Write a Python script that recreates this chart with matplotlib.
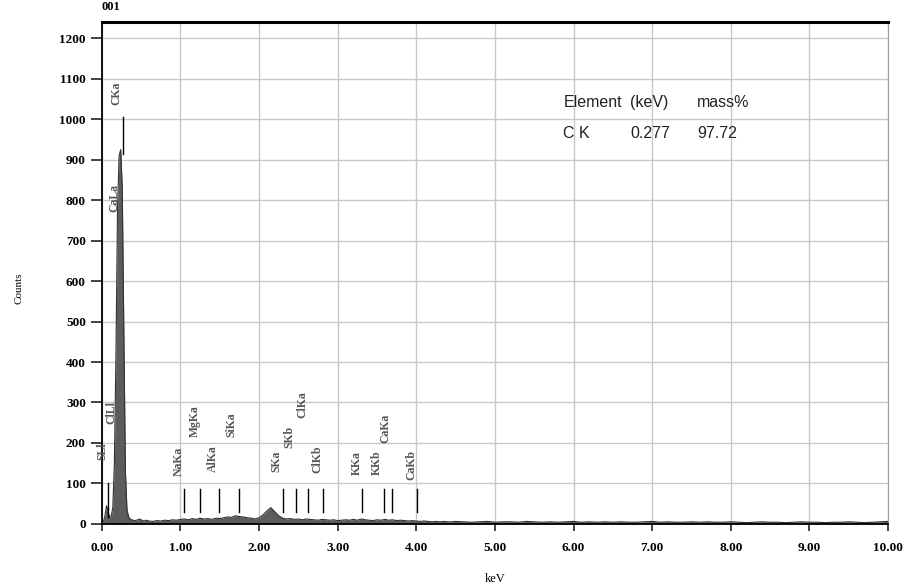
import numpy as np
import matplotlib.pyplot as plt

# spectrum: counts (keV grid pieces)
peak_counts = [0, 5, 20, 45, 30, 15, 20, 40, 150, 420, 780, 910, 925, 830, 470,
               130, 35, 18, 12, 10, 9, 8, 9, 10, 12, 10, 8, 7, 9, 8, 7]
mid_counts = [6, 8, 7, 9, 8, 10, 9, 11, 12, 10, 13, 11, 14, 12, 13, 11, 14, 13, 15, 17,
              16, 20, 18, 17, 15, 14, 12, 15, 22, 32, 40, 30, 20, 14, 12, 13, 11, 12, 10, 12,
              11, 10, 9, 11, 10, 9, 10, 8, 9, 10, 9, 11, 9, 12, 10, 9, 8, 10, 9, 11,
              9, 10, 8, 9, 8, 7, 8, 7, 6, 7, 6, 5, 6, 5, 6, 5, 5, 6]
tail_counts = [5, 4, 5, 6, 4, 5, 5, 4, 6, 5, 4, 5, 4, 5, 6, 4, 5, 4, 5, 4,
               5, 4, 4, 5, 6, 4, 5, 4, 4, 5, 4, 5, 4, 4, 5, 4, 3, 4, 5, 4,
               4, 3, 4, 5, 4, 4, 3, 4, 4, 5, 4, 3, 4, 5, 6]

peak_kev = np.round(np.arange(0.0, 0.6001, 0.02), 2)
mid_kev = np.round(np.arange(0.65, 4.5001, 0.05), 2)
tail_kev = np.round(np.arange(4.6, 10.0001, 0.1), 2)

kev = np.concatenate([peak_kev, mid_kev, tail_kev])
counts = np.array(peak_counts + mid_counts + tail_counts, dtype=float)

# element line markers
line_names = ['NaKa', 'MgKa', 'AlKa', 'SiKa', 'SKa', 'SKb', 'ClKa', 'ClKb',
              'KKa', 'KKb', 'CaKa', 'CaKb']
line_kev = [1.041, 1.253, 1.486, 1.739, 2.307, 2.464, 2.621, 2.815,
            3.312, 3.589, 3.690, 4.012]
label_kev = [0.98, 1.18, 1.41, 1.65, 2.22, 2.38, 2.55, 2.74, 3.24, 3.50, 3.61, 3.94]
label_cnt = [155, 255, 160, 245, 155, 215, 295, 160, 150, 150, 235, 145]

low_names = ['CKa', 'CaLa', 'ClLl', 'SLl']
low_kev = [0.18, 0.16, 0.12, 0.01]
low_cnt = [1065, 805, 275, 180]

table_rows = [['Element', '(keV)', 'mass%'], ['C K', '0.277', '97.72']]

SERIF = ['Liberation Serif', 'DejaVu Serif']

fig = plt.figure(figsize=(9.09, 5.84), dpi=100)
ax = fig.add_axes([0.112, 0.103, 0.865, 0.859])

ax.fill_between(kev, counts, color='#5c5c5c', linewidth=0)
ax.plot(kev, counts, color='#303030', linewidth=0.8)

for e in line_kev:
    ax.plot([e, e], [30, 85], color='black', linewidth=1.0)
ax.plot([0.27, 0.27], [915, 1005], color='black', linewidth=1.0)
ax.plot([0.08, 0.08], [17, 100], color='black', linewidth=1.0)

tfont = dict(family=SERIF, fontsize=8.5, color='#555555',
             rotation=90, ha='center', va='center', fontweight='bold')
for name, x, y in zip(line_names, label_kev, label_cnt):
    ax.text(x, y, name, **tfont)
for name, x, y in zip(low_names, low_kev, low_cnt):
    ax.text(x, y, name, **tfont)

nfont = dict(family=['Liberation Sans', 'DejaVu Sans'],
             fontsize=11.5, color='#222222', va='center')
col_x = [5.87, 6.72, 7.57]
row_y = [1042, 965]
for r, row in enumerate(table_rows):
    for c, txt in enumerate(row):
        ax.text(col_x[c], row_y[r], txt, **nfont)

ax.set_xlim(0, 10)
ax.set_ylim(0, 1240)
ax.set_xticks(np.arange(0, 11, 1))
ax.set_xticklabels([f'{v:.2f}' for v in range(11)])
ax.set_yticks(np.arange(0, 1201, 100))
ax.grid(True, color='#c8c8c8', linewidth=1.0)
ax.set_axisbelow(True)

ax.tick_params(axis='both', direction='out', length=8, width=1.2, color='#222222',
               labelsize=9.5)
ax.tick_params(axis='x', length=5, pad=8)
for lab in ax.get_xticklabels() + ax.get_yticklabels():
    lab.set_family(SERIF)
    lab.set_fontweight('bold')

for s in ['left', 'bottom']:
    ax.spines[s].set_linewidth(1.3)
ax.spines['top'].set_linewidth(2.2)
ax.spines['right'].set_linewidth(0.8)
ax.spines['right'].set_color('#999999')

ax.set_xlabel('keV', family=SERIF, fontsize=9, labelpad=14)
ax.set_ylabel('Counts', family=SERIF, fontsize=8)
ax.yaxis.set_label_coords(-0.1, 0.47)
ax.text(0.0, 1.018, '001', transform=ax.transAxes, fontsize=9, fontweight='bold',
        family=SERIF, ha='left', va='bottom')

fig.savefig('out.png', dpi=100)
